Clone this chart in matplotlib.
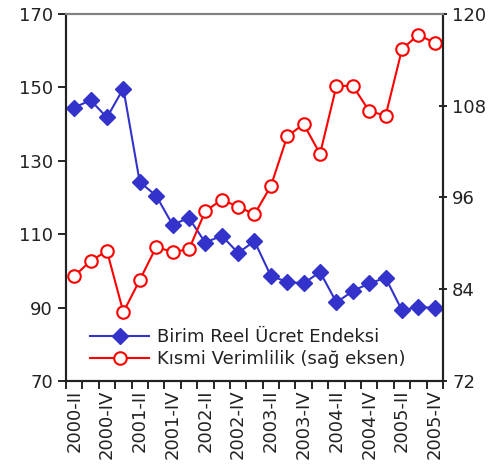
import matplotlib
matplotlib.use("Agg")
import matplotlib.pyplot as plt
import numpy as np

# index 0 = 2000-II
quarters = ["2000-II", "2000-III", "2000-IV", "2001-I",
            "2001-II", "2001-III", "2001-IV", "2002-I",
            "2002-II", "2002-III", "2002-IV", "2003-I",
            "2003-II", "2003-III", "2003-IV", "2004-I",
            "2004-II", "2004-III", "2004-IV", "2005-I",
            "2005-II", "2005-III", "2005-IV"]

ucret = [144.5, 146.5, 141.8, 149.7, 124.2, 120.5, 112.6, 114.4,
         107.7, 109.6, 104.9, 108.1, 98.6, 97.0, 96.6, 99.7,
         91.4, 94.5, 96.6, 98.1, 89.2, 90.2, 89.9]
verim = [85.7, 87.7, 89.0, 81.0, 85.2, 89.5, 88.9, 89.2,
         94.2, 95.7, 94.8, 93.8, 97.5, 104.0, 105.6, 101.7,
         110.6, 110.6, 107.3, 106.7, 115.4, 117.3, 116.2]

blue = "#3333CC"
red = "#FF0000"
txt = "#222222"
fs = 13

fig = plt.figure(figsize=(5.01, 4.75), dpi=100)
ax = fig.add_axes([0.1317, 0.198, 0.7525, 0.7725])
ax2 = ax.twinx()

x = np.arange(len(quarters))
l1, = ax.plot(x, ucret, color=blue, lw=1.5, marker="D", ms=8,
              mfc=blue, mec=blue)
l2, = ax2.plot(x, verim, color=red, lw=1.5, marker="o", ms=9,
               mfc="white", mec=red, mew=1.5)

ax.set_xlim(-0.5, len(quarters) - 0.5)
ax.set_ylim(70, 170)
ax.set_yticks([70, 90, 110, 130, 150, 170])
ax2.set_ylim(72, 120)
ax2.set_yticks([72, 84, 96, 108, 120])

ax.set_xticks(x[::2])
ax.set_xticklabels(quarters[::2], rotation=90, fontsize=fs, color=txt)
ax.tick_params(axis="x", length=0, pad=6)
ax.set_xticks(np.arange(-0.5, len(quarters) + 0.5), minor=True)
ax.tick_params(axis="x", which="minor", length=6, width=1.2, direction="out")
ax.tick_params(axis="y", labelsize=fs, labelcolor=txt, length=6, width=1.2,
               direction="out")
ax2.tick_params(axis="y", labelsize=fs, labelcolor=txt, length=6, width=1.2,
                direction="inout")

for a in (ax, ax2):
    a.spines["top"].set_color("#808080")
    a.spines["top"].set_linewidth(1.5)
    for s in ("left", "right", "bottom"):
        a.spines[s].set_linewidth(1.5)
        a.spines[s].set_color(txt)

leg = ax.legend([l1, l2], ["Birim Reel Ücret Endeksi", "Kısmi Verimlilik (sağ eksen)"],
                loc="lower left", bbox_to_anchor=(0.02, -0.01), frameon=False,
                fontsize=fs, handlelength=3.3, handletextpad=0.4,
                labelspacing=0.25)
for t in leg.get_texts():
    t.set_color(txt)

fig.savefig("out.png", dpi=100)
